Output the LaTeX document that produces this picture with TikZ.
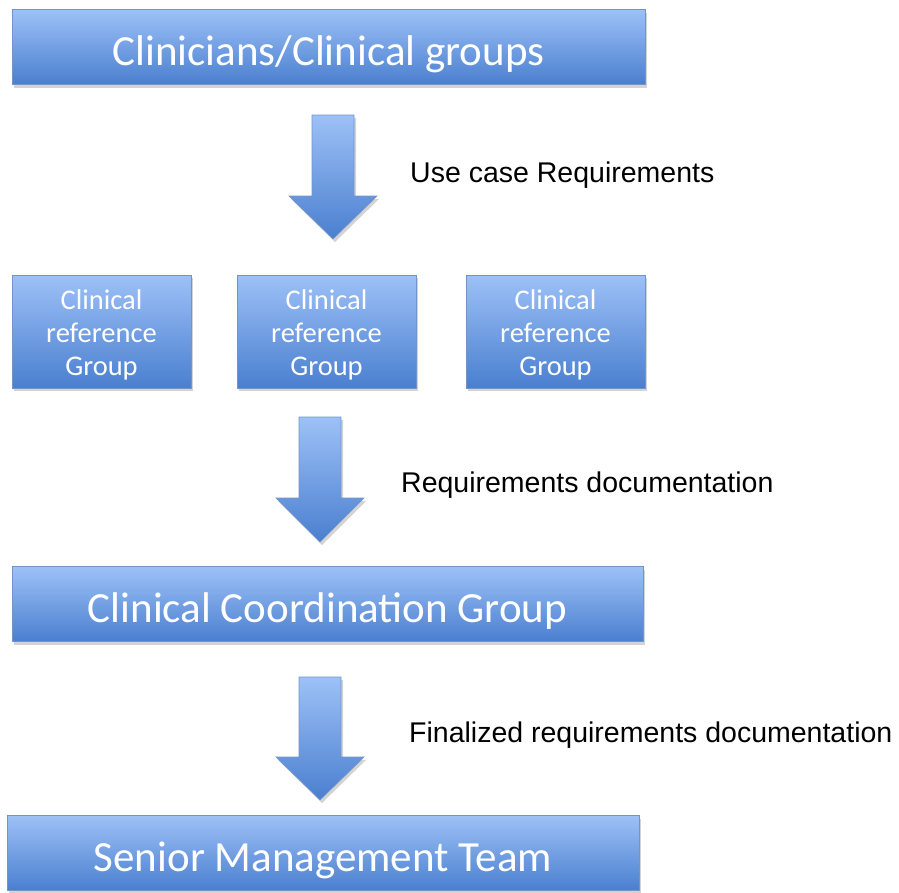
\documentclass[tikz,border=0pt]{standalone}
\usepackage{fontspec}
\setmainfont{Carlito}
\newfontfamily\labelfont{Liberation Sans}
\usetikzlibrary{shadows,positioning}

\definecolor{boxtop}{HTML}{9DC1F7}
\definecolor{boxbot}{HTML}{4A7FCF}
\definecolor{boxline}{HTML}{7394C6}

\tikzset{
  bluebox/.style={draw=boxline, line width=0.8pt, top color=boxtop, bottom color=boxbot,
    text=white, align=center, inner sep=0pt,
    drop shadow={opacity=0.35, shadow xshift=2pt, shadow yshift=-3pt}},
  widebox/.style={bluebox, minimum height=75pt, text height=36pt, text depth=0pt,
    font=\fontsize{43}{48}\selectfont},
  refbox/.style={bluebox, minimum width=179pt, minimum height=113pt, font=\fontsize{28.5}{33}\selectfont},
  flowlabel/.style={anchor=base west, inner sep=0pt, font=\labelfont\fontsize{28.5}{32}\selectfont},
  blockarrow/.style={draw=boxline, line width=0.6pt, top color=boxtop, bottom color=boxbot,
    drop shadow={opacity=0.35, shadow xshift=2pt, shadow yshift=-3pt}}
}

% down arrow: centre x, top of shaft, shoulder, tip
\newcommand{\blockdown}[4]{%
  \path[blockarrow] (#1-21,#2) -- (#1+21,#2) -- (#1+21,#3) -- (#1+44,#3)
    -- (#1,#4) -- (#1-44,#3) -- (#1-21,#3) -- cycle;}

\begin{document}
\begin{tikzpicture}[x=1pt, y=-1pt]
  \useasboundingbox (0,0) rectangle (899,892);

  % boxes
  \node[widebox, minimum width=633pt] (clinicians) at (328.5,47) {Clinicians/Clinical groups};
  \foreach \i/\x in {1/101.5, 2/326.5, 3/555.5}
    \node[refbox] (ref\i) at (\x,331.5) {\rule{0pt}{6pt}\\[-12pt]Clinical\\reference\\Group};
  \node[widebox, minimum width=631pt] (coord) at (327.5,604) {Clinical Coordination Group};
  \node[widebox, minimum width=632pt] (senior) at (323,853) {Senior Management Team};

  % block arrows
  \blockdown{333}{115}{196}{239}
  \blockdown{320}{417}{498}{542}
  \blockdown{320}{677}{757}{800}

  % labels
  \node[flowlabel] (usecase) at (410,182) {Use case Requirements};
  \node[flowlabel] (reqdoc) at (401,492) {Requirements documentation};
  \node[flowlabel] (finaldoc) at (409,742) {Finalized requirements documentation};
\end{tikzpicture}
\end{document}
